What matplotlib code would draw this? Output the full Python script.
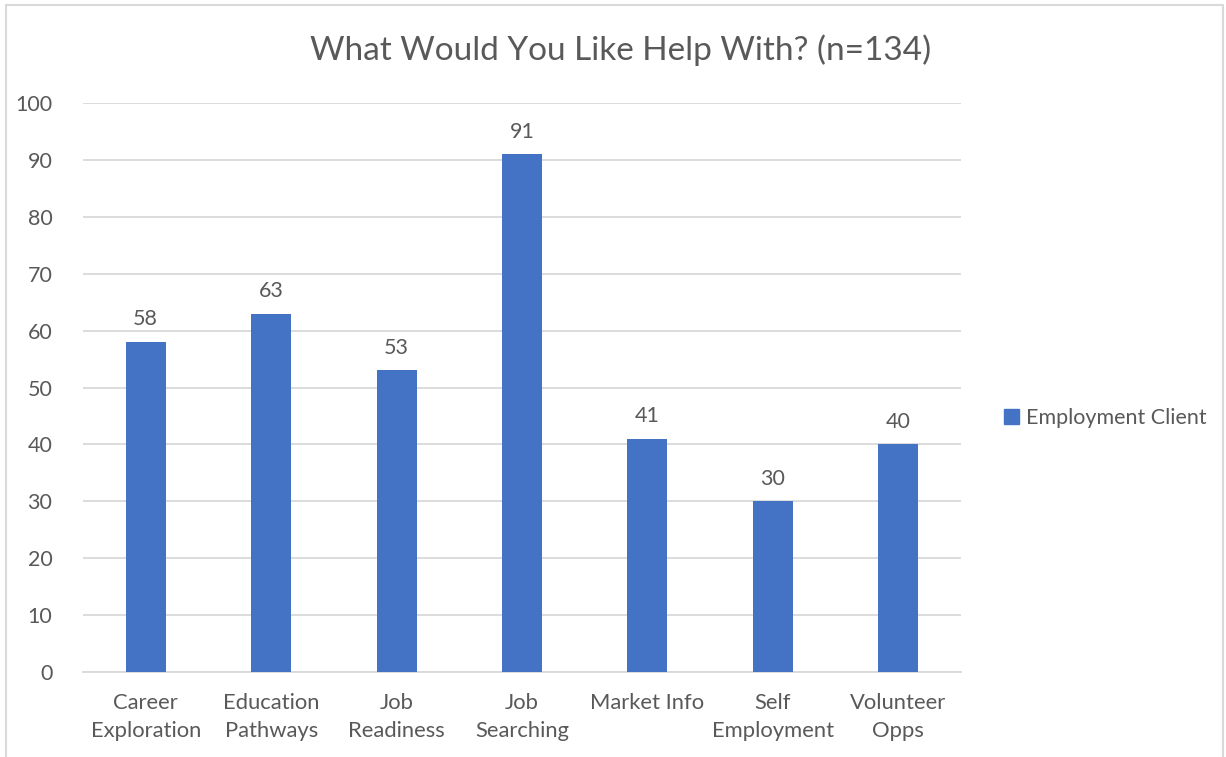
import matplotlib
matplotlib.use("Agg")
import matplotlib.pyplot as plt
from matplotlib.patches import Rectangle, Patch

categories = ["Career\nExploration", "Education\nPathways", "Job\nReadiness", "Job\nSearching",
              "Market Info", "Self\nEmployment", "Volunteer\nOpps"]
values = [58, 63, 53, 91, 41, 30, 40]
series_name = "Employment Client"
title = "What Would You Like Help With? (n=134)"

plt.rcParams['font.family'] = ['Lato', 'DejaVu Sans']
txt = "#595959"
bar_color = "#4472C4"
grid_color = "#d9d9d9"

fig = plt.figure(figsize=(12.26, 7.57), dpi=100)
ax = fig.add_axes([83/1226, 1-672/757, (961-83)/1226, (672-103)/757])

x = list(range(len(categories)))
bars = ax.bar(x, values, width=0.32, color=bar_color, zorder=3)
ax.set_xlim(-0.5, len(categories)-0.5)
ax.set_ylim(0, 100)
ax.set_yticks(range(0, 101, 10))
ax.yaxis.grid(True, color=grid_color, linewidth=1.3, zorder=0)
ax.set_axisbelow(True)
for s in ["top", "right", "left"]:
    ax.spines[s].set_visible(False)
ax.spines["bottom"].set_color(grid_color)
ax.spines["bottom"].set_linewidth(1.3)
ax.tick_params(axis="both", length=0, colors=txt, labelsize=15.5)
ax.tick_params(axis="y", pad=22)
ax.tick_params(axis="x", labelsize=15.8, pad=15)
ax.set_xticks(x)
ax.set_xticklabels(categories, linespacing=1.5)

for xi, v in zip(x, values):
    ax.annotate(str(v), (xi, v), xytext=(0, 9), textcoords="offset points",
                ha="center", va="bottom", fontsize=15.5, color=txt)

fig.text(621/1226, 1-50/757, title, ha="center", va="center", fontsize=24, color=txt)

leg = fig.legend(handles=[Patch(color=bar_color, label=series_name)],
                 loc="center left", bbox_to_anchor=(995/1226, 1-418/757),
                 frameon=False, fontsize=15.5, handlelength=0.72, handleheight=0.72,
                 handletextpad=0.3, borderaxespad=0)
for t in leg.get_texts():
    t.set_color(txt)

fig.patches.append(Rectangle((6/1226, -0.01), (1223-6)/1226, 1-5/757+0.01,
                             transform=fig.transFigure, fill=False,
                             edgecolor=grid_color, linewidth=1.5))

fig.savefig("out.png", dpi=100)
